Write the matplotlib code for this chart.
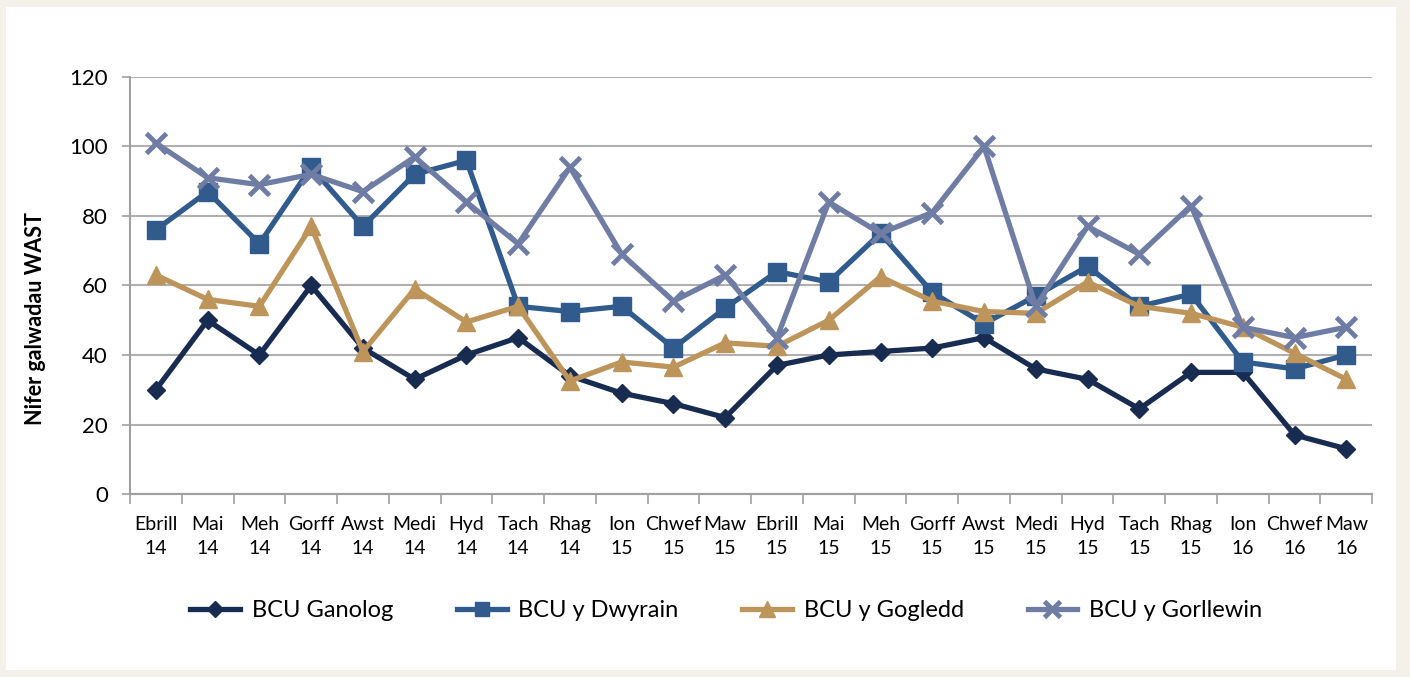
import numpy as np
import matplotlib.pyplot as plt
from matplotlib.patches import Rectangle

months = ['Ebrill\n14', 'Mai\n14', 'Meh\n14', 'Gorff\n14', 'Awst\n14', 'Medi\n14',
          'Hyd\n14', 'Tach\n14', 'Rhag\n14', 'Ion\n15', 'Chwef\n15', 'Maw\n15',
          'Ebrill\n15', 'Mai\n15', 'Meh\n15', 'Gorff\n15', 'Awst\n15', 'Medi\n15',
          'Hyd\n15', 'Tach\n15', 'Rhag\n15', 'Ion\n16', 'Chwef\n16', 'Maw\n16']

ganolog = [30, 50, 40, 60, 42, 33, 40, 45, 34, 29, 26, 22,
           37, 40, 41, 42, 45, 36, 33, 24.5, 35, 35, 17, 13]
dwyrain = [76, 87, 72, 94, 77, 92, 96, 54, 52.5, 54, 42, 53.5,
           64, 61, 75, 58, 49, 57, 65.5, 54, 57.5, 38, 36, 40]
gogledd = [63, 56, 54, 77, 41, 59, 49.5, 54, 32.5, 38, 36.5, 43.5,
           42.5, 50, 62.5, 55.5, 52.5, 52, 61, 54, 52, 48, 40.5, 33]
gorllewin = [101, 91, 89, 92, 87, 97, 84, 72, 94, 69, 55.5, 63,
             45, 84, 75, 81, 100, 54, 77, 69, 83, 48, 45, 48]

plt.rcParams['font.family'] = ['Lato', 'DejaVu Sans']

fig = plt.figure(figsize=(14.1, 6.77), dpi=100)
fig.patch.set_facecolor('#f4f0ea')
fig.patches.append(Rectangle((6 / 1410, 7 / 677), 1390 / 1410, 663 / 677,
                             transform=fig.transFigure, facecolor='white',
                             edgecolor='none', zorder=-10))

ax = fig.add_axes([0.0922, 0.2703, 0.881, 0.616])
ax.set_facecolor('white')

x = np.arange(len(months))
ax.plot(x, ganolog, color='#182b50', lw=3.8, marker='D', ms=9, label='BCU Ganolog', zorder=3)
ax.plot(x, dwyrain, color='#305b8c', lw=3.8, marker='s', ms=12.5, label='BCU y Dwyrain', zorder=3)
ax.plot(x, gogledd, color='#bd955a', lw=3.8, marker='^', ms=13, label='BCU y Gogledd', zorder=3)
ax.plot(x, gorllewin, color='#6f7da5', lw=3.8, marker='x', ms=14, mew=3.5, label='BCU y Gorllewin', zorder=3)

ax.set_xlim(-0.5, len(months) - 0.5)
ax.set_ylim(0, 120)
ax.set_yticks(range(0, 121, 20))
ax.yaxis.grid(True, color='#b0b0b0', lw=1.5)
ax.set_axisbelow(True)

ax.set_xticks(x)
ax.set_xticklabels(months, fontsize=14, linespacing=1.45)
ax.set_xticks(np.arange(-0.5, len(months)), minor=True)
ax.tick_params(axis='x', which='major', length=0, pad=16)
ax.tick_params(axis='x', which='minor', length=7, color='#a0a0a0', width=1.2)
ax.tick_params(axis='y', length=6, color='#a0a0a0', width=1.2, labelsize=16, pad=10)

for side in ['top', 'right']:
    ax.spines[side].set_visible(False)
for side in ['left', 'bottom']:
    ax.spines[side].set_color('#a0a0a0')
    ax.spines[side].set_linewidth(1.5)

ax.set_ylabel('Nifer galwadau WAST', fontsize=15.5, fontweight='bold')
ax.yaxis.set_label_coords(-0.068, 0.42)

ax.legend(loc='center', bbox_to_anchor=(0.48, -0.28), ncol=4, frameon=False,
          fontsize=17, handlelength=2.1, columnspacing=2.7, handletextpad=0.5,
          markerscale=0.85)

fig.savefig('out.png', dpi=100, facecolor=fig.get_facecolor())
